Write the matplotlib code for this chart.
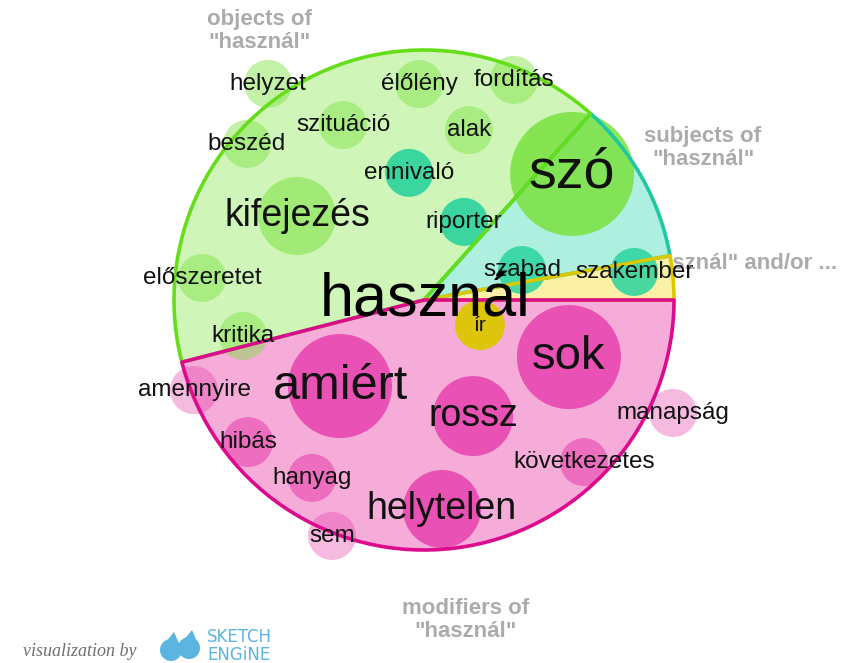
import numpy as np
import matplotlib
matplotlib.use("Agg")
import matplotlib.pyplot as plt
from matplotlib.patches import Wedge, Circle, Polygon

plt.rcParams['font.family'] = ['Liberation Sans', 'DejaVu Sans']

# ---------------- data ----------------
center_word = "használ"

groups = ["objects", "subjects", "andor", "modifiers"]
group_labels = ['objects of\n"használ"', 'subjects of\n"használ"',
                '"használ" and/or ...', 'modifiers of\n"használ"']
wedge_start = [48.2, 10.2, 0.0, 194.4]     # degrees
wedge_end = [194.4, 48.2, 10.2, 360.0]

words = ["helyzet", "élőlény", "fordítás", "szituáció", "alak", "beszéd",
         "ennivaló", "szó", "kifejezés", "riporter", "előszeretet", "kritika",
         "szabad", "szakember", "ír",
         "amennyire", "amiért", "sok", "rossz", "manapság", "hibás",
         "következetes", "hanyag", "helytelen", "sem"]
word_group = ["objects", "objects", "objects", "objects", "objects", "objects",
              "subjects", "objects", "objects", "subjects", "objects", "objects",
              "subjects", "subjects", "andor",
              "modifiers", "modifiers", "modifiers", "modifiers", "modifiers",
              "modifiers", "modifiers", "modifiers", "modifiers", "modifiers"]
# polar position: angle (deg) and distance from centre (fraction of radius)
word_angle = [125.8, 91.3, 67.8, 114.8, 75.2, 138.6,
              96.7, 40.4, 146.5, 62.9, 174.3, 191.2,
              17.0, 7.6, 335.9,
              201.4, 225.7, 338.5, 292.9, 335.6, 218.9,
              314.6, 237.8, 274.9, 248.7]
word_dist = [1.066, 0.864, 0.951, 0.771, 0.703, 0.944,
             0.512, 0.778, 0.609, 0.351, 0.892, 0.738,
             0.410, 0.848, 0.245,
             0.988, 0.481, 0.623, 0.504, 1.094, 0.905,
             0.911, 0.841, 0.839, 1.013]
# bubble radius (fraction of pie radius) ~ frequency
word_size = [0.096, 0.096, 0.096, 0.096, 0.096, 0.096,
             0.096, 0.248, 0.156, 0.096, 0.096, 0.096,
             0.096, 0.096, 0.100,
             0.096, 0.208, 0.208, 0.160, 0.096, 0.100,
             0.096, 0.096, 0.156, 0.096]
# label font size ~ score
word_font = [17.5, 17.5, 17.5, 17.5, 17.5, 17.5,
             17.5, 40, 27, 17.5, 17.5, 17.5,
             17.5, 17.5, 15,
             17.5, 35, 34, 27, 17.5, 17.5,
             17.5, 17.5, 27, 17.5]
# bubble strength
word_strength = [0.45, 0.45, 0.45, 0.45, 0.45, 0.45,
                 0.9, 0.85, 0.55, 0.9, 0.45, 0.45,
                 0.85, 0.85, 0.95,
                 0.35, 0.8, 0.8, 0.8, 0.35, 0.55,
                 0.55, 0.55, 0.8, 0.35]

# ---------------- style ----------------
fill_col = {"objects": "#cff6b8", "subjects": "#adf0df",
            "andor": "#faf0a6", "modifiers": "#f6acd9"}
edge_col = {"objects": "#66dd1a", "subjects": "#1ec8a0",
            "andor": "#dcc800", "modifiers": "#dc0a8c"}
bubble_col = {"objects": "#7be13f", "subjects": "#2bd39e",
              "andor": "#dcc700", "modifiers": "#e63aab"}

W, H = 843, 663
CX, CY, R = 424, 300, 250.0


def px(x, y):
    return ((x - CX) / R, (CY - y) / R)


fig = plt.figure(figsize=(W / 100, H / 100), dpi=100)
ax = fig.add_axes([0, 0, 1, 1])
ax.set_xlim(-CX / R, (W - CX) / R)
ax.set_ylim((CY - H) / R, CY / R)
ax.set_aspect("equal")
ax.axis("off")

# wedge fills
for g, a0, a1 in zip(groups, wedge_start, wedge_end):
    ax.add_patch(Wedge((0, 0), 1.0, a0, a1, facecolor=fill_col[g],
                       edgecolor="none", zorder=1))

# bubbles
for w, g, a, d, s, st in zip(words, word_group, word_angle, word_dist,
                             word_size, word_strength):
    x, y = d * np.cos(np.radians(a)), d * np.sin(np.radians(a))
    ax.add_patch(Circle((x, y), s, facecolor=bubble_col[g], alpha=st,
                        edgecolor="none", zorder=2))

# wedge outlines
for g in ["subjects", "objects", "andor", "modifiers"]:
    i = groups.index(g)
    ax.add_patch(Wedge((0, 0), 1.0, wedge_start[i], wedge_end[i], fill=False,
                       edgecolor=edge_col[g], linewidth=2.6, zorder=3,
                       joinstyle="round"))

# word labels
for w, a, d, f in zip(words, word_angle, word_dist, word_font):
    x, y = d * np.cos(np.radians(a)), d * np.sin(np.radians(a))
    ax.text(x, y, w, fontsize=f, ha="center", va="center", color="#111111",
            zorder=4)

ax.text(*px(425, 301), center_word, fontsize=44, ha="center", va="center",
        color="#000000", zorder=5)

# group labels (outside the pie)
lab_kw = dict(fontsize=16, fontweight="bold", color="#ababab",
              ha="center", va="center", linespacing=1.1)
ax.text(*px(260, 31), group_labels[0], zorder=4, **lab_kw)
ax.text(*px(703, 148), group_labels[1], zorder=4, **lab_kw)
ax.text(*px(636, 263), group_labels[2], fontsize=16, fontweight="bold",
        color="#ababab", ha="left", va="center", zorder=0)
ax.text(*px(466, 620), group_labels[3], zorder=4, **lab_kw)

# footer
ax.text(*px(80, 651), "visualization by", fontsize=13, style="italic",
        family=["Liberation Serif", "DejaVu Serif"], color="#6f6f6f",
        ha="center", va="center")
logo = "#5bb5e0"
for cx, cy in [(171, 650), (189, 648)]:
    ax.add_patch(Circle(px(cx, cy), 11 / R, facecolor=logo, edgecolor="none"))
    ax.add_patch(Polygon([px(cx - 11, cy - 1), px(cx + 3, cy - 18),
                          px(cx + 7, cy - 9)], closed=True,
                         facecolor=logo, edgecolor="none"))
ax.text(*px(207, 637), "SKETCH", fontsize=12, color=logo, ha="left",
        va="center", family=["Liberation Sans Narrow", "DejaVu Sans"])
ax.text(*px(207, 655), "ENGiNE", fontsize=12, color=logo, ha="left",
        va="center", family=["Liberation Sans Narrow", "DejaVu Sans"])

fig.savefig("out.png", dpi=100)
